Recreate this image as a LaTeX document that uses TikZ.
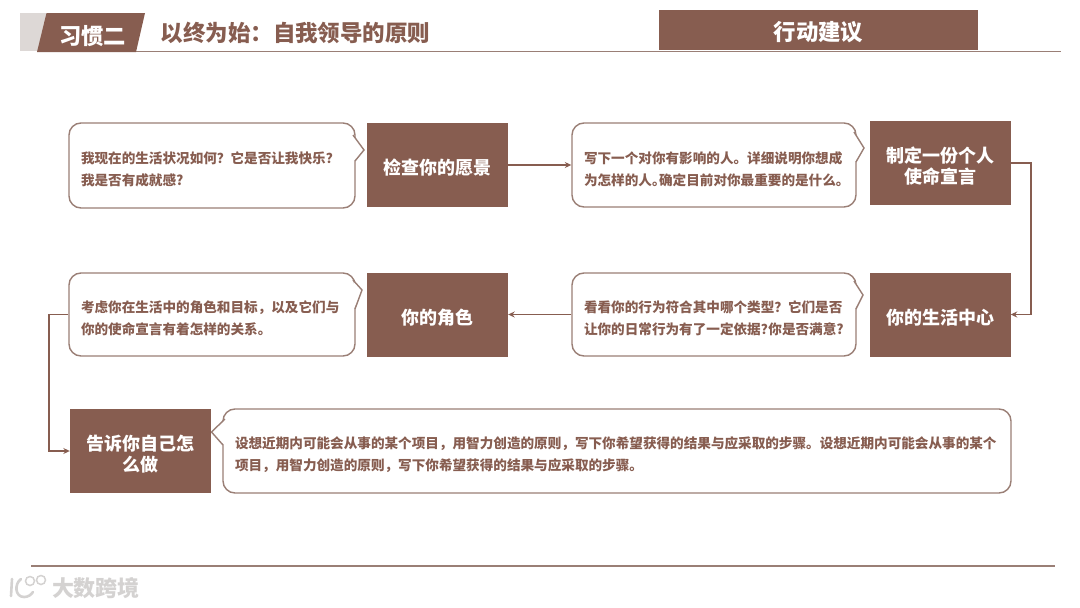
\documentclass[tikz,border=0pt]{standalone}
\usepackage{fontspec}
\setmainfont{Noto Sans CJK SC}
\definecolor{brn}{HTML}{875D50}
\definecolor{lin}{HTML}{9A7F76}
\definecolor{hd}{HTML}{DDD8D6}
\definecolor{wm}{HTML}{D4D2D1}
\usetikzlibrary{arrows.meta}
\newcommand{\dnbox}{\rule{0pt}{21.5pt}}
\newcommand{\dnbub}{\rule{0pt}{20pt}}
\tikzset{
  brbox/.style={fill=brn,text=white,minimum width=141pt,minimum height=84pt,inner sep=0pt,align=center,font=\fontsize{18}{21}\selectfont\bfseries},
  bub/.style={draw=lin,line width=1.4pt,fill=white,rounded corners=12pt,inner sep=0pt,anchor=center,align=left,text=brn,font=\fontsize{13.6}{22}\selectfont\bfseries},
  tailw/.style={fill=white,draw=none},
  tail/.style={draw=lin,line width=1.4pt,line join=miter},
  conn/.style={draw=brn,line width=1.8pt,-{Stealth[length=6.5pt,width=6pt]}},
  rule/.style={draw=lin,line width=1.3pt}
}
\begin{document}
\begin{tikzpicture}[x=1pt,y=-1pt]
\useasboundingbox[fill=white] (0,0) rectangle (1080,608);
% header
\fill[hd] (19.5,13) rectangle (46,51);
\draw[rule] (136,51.5) -- (1061,51.5);
\fill[brn] (37,52) -- (46.5,13) -- (145,13) -- (136,52) -- cycle;
\node[text=white,font=\fontsize{22.3}{24}\selectfont\bfseries,inner sep=0pt] (habit) at (92.5,36) {习惯二};
\node[text=brn,font=\fontsize{22.5}{24}\selectfont\bfseries,inner sep=0pt] (title) at (295.5,33) {以终为始：自我领导的原则};
\node[fill=brn,text=white,minimum width=319pt,minimum height=40pt,inner sep=0pt,font=\fontsize{22.4}{24}\selectfont\bfseries] (act) at (818.5,29.5) {\rule{0pt}{24pt}行动建议};
% boxes
\node[brbox] (bx1) at (437.5,165) {\dnbox 检查你的愿景};
\node[brbox] (bx2) at (940,163) {\dnbox 制定一份个人\\使命宣言};
\node[brbox] (bx3) at (940,314.5) {\dnbox 你的生活中心};
\node[brbox] (bx4) at (437.5,314.5) {\dnbox 你的角色};
\node[brbox] (bx5) at (140.5,451) {\dnbox 告诉你自己怎\\么做};
% bubbles
\node[bub,minimum width=286pt,minimum height=85pt,text width=262pt] (b1) at (212,165.5) {\dnbub 我现在的生活状况如何？它是否让我快乐？\\我是否有成就感?};
\node[bub,minimum width=284pt,minimum height=84pt,text width=260pt] (b2) at (714,165) {\dnbub 写下一个对你有影响的人。详细说明你想成\\为怎样的人。\kern-6.5pt 确定目前对你最重要的是什么。};
\node[bub,minimum width=284pt,minimum height=83pt,text width=260pt] (b3) at (714,314.5) {\dnbub 看看你的行为符合其中哪个类型？它们是否\\让你的日常行为有了一定依据？\kern-6pt 你是否满意?};
\node[bub,minimum width=286pt,minimum height=83pt,text width=262pt] (b4) at (212,314.5) {\dnbub 考虑你在生活中的角色和目标，以及它们与\\你的使命宣言有着怎样的关系。};
\node[bub,minimum width=788pt,minimum height=84pt,text width=764pt] (b5) at (617,451) {\dnbub 设想近期内可能会从事的某个项目，用智力创造的原则，写下你希望获得的结果与应采取的步骤。设想近期内可能会从事的某个\\项目，用智力创造的原则，写下你希望获得的结果与应采取的步骤。};
% tails
\fill[tailw] (354,137) -- (364,150) -- (354,161) -- cycle;
\draw[tail] (353,135) -- (364,150) -- (355,161);
\fill[tailw] (855,133) -- (864,148) -- (855,162) -- cycle;
\draw[tail] (854,132) -- (864,148) -- (856,162);
\fill[tailw] (855,282) -- (863,295) -- (855,309) -- cycle;
\draw[tail] (854,281) -- (863,295) -- (856,309);
\fill[tailw] (354,282) -- (362,290) -- (354,309) -- cycle;
\draw[tail] (353,280) -- (362,290) -- (355,309);
\fill[tailw] (224,421) -- (211.5,432) -- (224,445) -- cycle;
\draw[tail] (225,419) -- (211.5,432) -- (223,445);
% connectors
\draw[conn] (bx1.east) -- (b2.west);
\draw[conn] (bx2.east) -- ++(20,0) |- (bx3.east);
\draw[conn] (b3.west) -- (bx4.east);
\draw[conn] (b4.west) -- ++(-19,0) |- (bx5.west);
% footer
\draw[rule] (31,566) -- (1055,566);
\node[text=wm,font=\fontsize{22}{24}\selectfont\bfseries,inner sep=0pt] (wmk) at (96,588) {大数跨境};
\draw[wm,line width=2.6pt,line cap=round] (12,579) -- (11,596);
\draw[wm,line width=2.6pt,line cap=round] (21,579) .. controls (14,584) and (15,597) .. (24,597) .. controls (28,597) and (31,595) .. (33,592);
\draw[wm,line width=1.5pt] (30,581) circle (4.5) (41,580) circle (4.5);
\end{tikzpicture}
\end{document}
